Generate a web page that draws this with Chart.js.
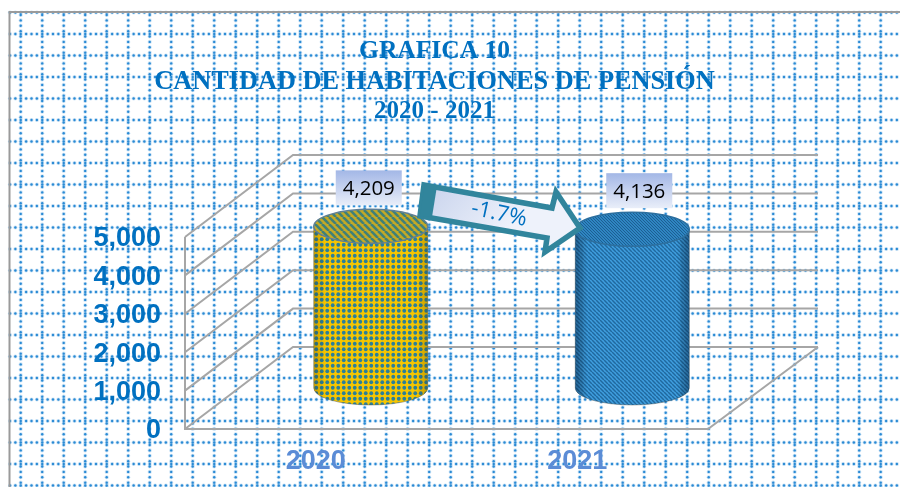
<!DOCTYPE html>
<html>
<head>
<meta charset="utf-8">
<style>html,body{margin:0;padding:0;background:#fff}#w{width:900px;height:487px;position:relative}</style>
<script src="https://cdn.jsdelivr.net/npm/chart.js@4/dist/chart.umd.min.js"></script>
</head>
<body>
<div id="w"><canvas id="c" width="900" height="487"></canvas></div>
<script>
const categories = ['2020', '2021'];
const habitaciones = [4209, 4136];
const valueLabels = ['4,209', '4,136'];
const yTicks = [0, 1000, 2000, 3000, 4000, 5000];
const titleLines = ['GRAFICA 10', 'CANTIDAD DE HABITACIONES DE PENSIÓN', '2020 - 2021'];
const changeLabel = '-1.7%';

const BLUE = '#0070c0';
const WALL = '#a6a6a6';
const DEPTH_X = 112, DEPTH_Y = 82;

function tile(w, h, paint) {
  const t = document.createElement('canvas');
  t.width = w; t.height = h;
  paint(t.getContext('2d'));
  return t;
}
function hatch(g, size, bg, fg, lw) {
  g.fillStyle = bg; g.fillRect(0, 0, size, size);
  g.strokeStyle = fg; g.lineWidth = lw;
  for (let i = -size; i <= size * 2; i += size) {
    g.beginPath(); g.moveTo(i, 0); g.lineTo(i + size, size); g.stroke();
  }
}
const skins = [
  { side: tile(11, 11, g => {
      g.fillStyle = '#f7c600'; g.fillRect(0, 0, 11, 11);
      g.fillStyle = '#2a7f9a';
      [[2.75, 2.75], [8.25, 2.75], [2.75, 8.25], [8.25, 8.25]].forEach(p => { g.beginPath(); g.arc(p[0], p[1], 1.9, 0, 7); g.fill(); });
    }),
    top: tile(7, 7, g => hatch(g, 7, '#c4a926', '#3f8079', 2.6)),
    edge: '#5f7f96', dark: 'rgba(70,50,0,.25)' },
  { side: tile(4, 4, g => hatch(g, 4, '#3f9ede', '#20699f', 1.5)),
    top: tile(3, 3, g => hatch(g, 3, '#2f86c2', '#1c5f93', 1)),
    edge: '#2c6f9f', dark: 'rgba(5,35,70,.45)' }
];

const backdrop = {
  id: 'backdrop',
  beforeDraw(chart) {
    const g = chart.ctx, S = 21.5, D = 5.375;
    g.save();
    g.fillStyle = '#fff'; g.fillRect(0, 0, 900, 487);
    g.fillStyle = 'rgba(60,150,220,.26)';
    for (let y = 12.5; y < 490; y += S) for (let x = 10; x < 900; x += D) { g.beginPath(); g.arc(x, y, 2.1, 0, 7); g.fill(); }
    for (let x = 20.7; x < 900; x += S) for (let y = 15; y < 490; y += D) { g.beginPath(); g.arc(x, y, 2.1, 0, 7); g.fill(); }
    g.fillStyle = '#2a8ad4';
    for (let y = 12.5; y < 490; y += S) for (let x = 10; x < 900; x += D) { g.beginPath(); g.arc(x, y, 1.2, 0, 7); g.fill(); }
    for (let x = 20.7; x < 900; x += S) for (let y = 15; y < 490; y += D) { g.beginPath(); g.arc(x, y, 1.2, 0, 7); g.fill(); }
    g.strokeStyle = '#9a9a9a'; g.lineWidth = 2;
    g.beginPath(); g.moveTo(9.5, 487); g.lineTo(9.5, 12); g.lineTo(900, 12); g.stroke();

    g.fillStyle = BLUE; g.textAlign = 'center'; g.textBaseline = 'middle';
    const sizes = [25.5, 26.3, 25], ys = [51, 82, 112];
    titleLines.forEach((t, i) => {
      g.font = 'bold ' + sizes[i] + 'px "Liberation Serif"';
      g.fillText(t, 434.5, ys[i]);
    });

    const sy = chart.scales.y, a = chart.chartArea;
    g.strokeStyle = WALL; g.lineWidth = 2;
    yTicks.forEach(v => {
      const p = sy.getPixelForValue(v);
      g.beginPath();
      g.moveTo(a.left, p); g.lineTo(a.left + DEPTH_X - 4, p - DEPTH_Y); g.lineTo(a.right + DEPTH_X - 2, p - DEPTH_Y);
      g.stroke();
    });
    const p0 = sy.getPixelForValue(0);
    g.beginPath();
    g.moveTo(a.left, sy.getPixelForValue(5000)); g.lineTo(a.left, p0); g.lineTo(a.right, p0); g.lineTo(a.right + DEPTH_X - 2, p0 - DEPTH_Y);
    g.stroke();
    g.restore();
  }
};

const cylinders = {
  id: 'cylinders',
  afterDatasetsDraw(chart) {
    const g = chart.ctx, RX = 57, RY = 17;
    const bars = chart.getDatasetMeta(0).data;
    bars.forEach((b, i) => {
      const skin = skins[i];
      const cx = b.x + DEPTH_X / 2 - 1, top = b.y - DEPTH_Y / 2, bot = b.base - DEPTH_Y / 2;
      const side = new Path2D();
      side.moveTo(cx - RX, top);
      side.lineTo(cx - RX, bot);
      side.ellipse(cx, bot, RX, RY, 0, Math.PI, 0, true);
      side.lineTo(cx + RX, top);
      side.ellipse(cx, top, RX, RY, 0, 0, Math.PI, false);
      side.closePath();
      g.save();
      g.fillStyle = g.createPattern(skin.side, 'repeat');
      g.fill(side);
      const sh = g.createLinearGradient(cx - RX, 0, cx + RX, 0);
      sh.addColorStop(0, skin.dark);
      sh.addColorStop(.1, 'rgba(0,0,0,0)');
      sh.addColorStop(.9, 'rgba(0,0,0,0)');
      sh.addColorStop(1, skin.dark);
      g.fillStyle = sh; g.fill(side);
      g.strokeStyle = 'rgba(60,70,70,.4)'; g.lineWidth = 1; g.stroke(side);
      const cap = new Path2D();
      cap.ellipse(cx, top, RX, RY, 0, 0, Math.PI * 2);
      g.fillStyle = g.createPattern(skin.top, 'repeat');
      g.fill(cap);
      g.strokeStyle = skin.edge; g.lineWidth = 1.5; g.stroke(cap);
      g.restore();

      const bw = 66, bh = 35, bx = cx - 2 + i * 9 - bw / 2, by = top - 56;
      const lg = g.createLinearGradient(0, by, 0, by + bh);
      lg.addColorStop(0, '#a3b7e6'); lg.addColorStop(1, '#e9eef9');
      g.fillStyle = lg; g.fillRect(bx, by, bw, bh);
      g.fillStyle = '#000'; g.font = '20.5px "Open Sans"';
      g.textAlign = 'center'; g.textBaseline = 'middle';
      g.fillText(valueLabels[i], bx + bw / 2, by + bh / 2 + 1);
    });

    g.save();
    const arrow = new Path2D('M424 185 L552 208 L556 192 L580 228 L545 252 L547 238 L420 216 Z');
    const ag = g.createLinearGradient(440, 185, 500, 240);
    ag.addColorStop(0, '#ccd6ee'); ag.addColorStop(1, '#eef2fb');
    g.fillStyle = ag; g.fill(arrow);
    g.strokeStyle = '#31859c'; g.lineWidth = 5.5; g.lineJoin = 'miter'; g.stroke(arrow);
    g.fillStyle = '#31859c';
    g.beginPath(); g.moveTo(425, 183); g.lineTo(437, 186); g.lineTo(432, 217); g.lineTo(420, 216); g.closePath(); g.fill();
    g.translate(499, 214); g.rotate(12 * Math.PI / 180);
    g.fillStyle = BLUE; g.font = '22px "Open Sans"';
    g.textAlign = 'center'; g.textBaseline = 'middle';
    g.fillText(changeLabel, 0, 0);
    g.restore();
  }
};

new Chart(document.getElementById('c'), {
  type: 'bar',
  data: {
    labels: categories,
    datasets: [{ label: 'Habitaciones', data: habitaciones, backgroundColor: 'rgba(0,0,0,0)', borderWidth: 0 }]
  },
  options: {
    responsive: false,
    animation: false,
    devicePixelRatio: 1,
    layout: { padding: { top: 237, right: 192, left: 0, bottom: 0 } },
    plugins: { legend: { display: false }, tooltip: { enabled: false }, title: { display: false } },
    scales: {
      x: {
        grid: { display: false, drawTicks: false },
        border: { display: false },
        afterFit(s) { s.height = 58; },
        ticks: { color: '#5b8cd6', padding: 16, font: { family: '"Liberation Sans"', size: 27, weight: 'bold' }, maxRotation: 0 }
      },
      y: {
        min: 0, max: 5000,
        grid: { display: false, drawTicks: false },
        border: { display: false },
        afterFit(s) { s.width = 185; },
        afterBuildTicks(s) { s.ticks = yTicks.map(v => ({ value: v })); },
        ticks: {
          color: BLUE, padding: 24, labelOffset: 2,
          font: { family: '"Liberation Sans"', size: 27, weight: 'bold' },
          callback: v => v.toLocaleString('en-US')
        }
      }
    }
  },
  plugins: [backdrop, cylinders]
});
</script>
</body>
</html>
